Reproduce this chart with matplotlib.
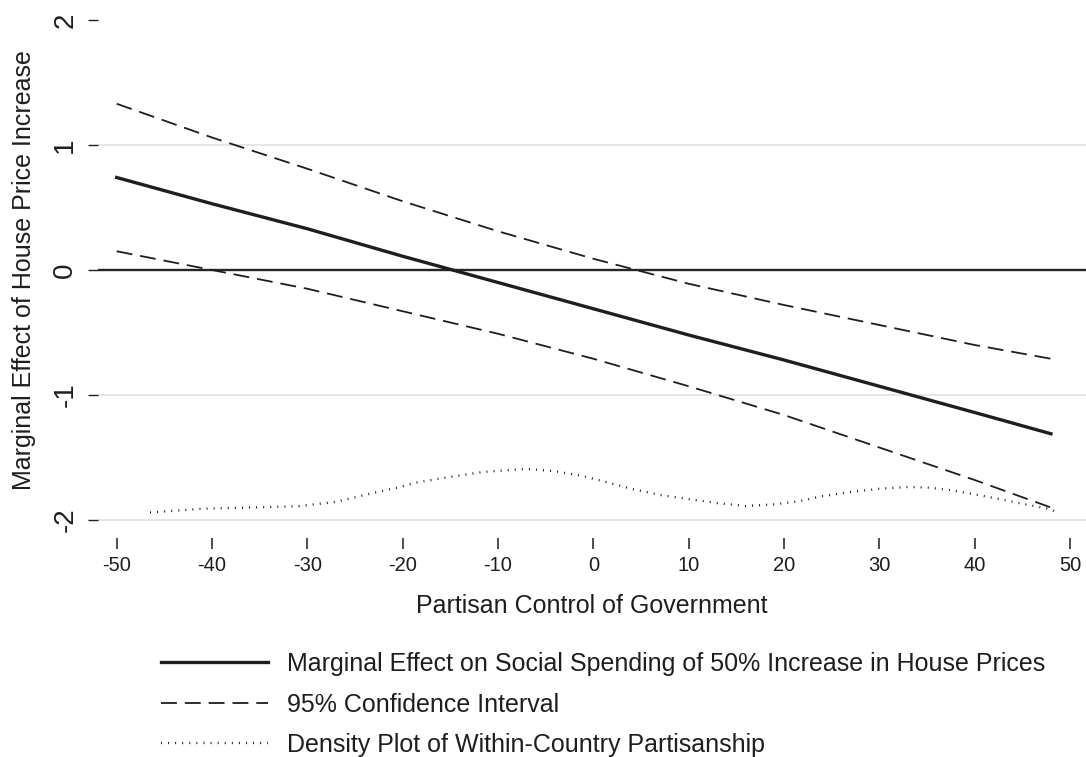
import matplotlib.pyplot as plt

plt.rcParams['font.family'] = ['Liberation Sans', 'DejaVu Sans']
plt.rcParams['axes.unicode_minus'] = False

# marginal effect of a 50% house price increase, evaluated along partisanship
partisan = [-50, -40, -30, -20, -10, 0, 10, 20, 30, 40, 48]
effect = [0.74, 0.53, 0.33, 0.11, -0.10, -0.31, -0.52, -0.72, -0.93, -1.14, -1.31]
ci_upper = [1.33, 1.06, 0.81, 0.55, 0.31, 0.09, -0.11, -0.28, -0.44, -0.60, -0.71]
ci_lower = [0.15, 0.00, -0.15, -0.33, -0.51, -0.71, -0.93, -1.16, -1.42, -1.68, -1.90]

# kernel density of within-country partisanship (rescaled onto the y axis)
density_x = [-46.5, -41, -36, -31, -27, -24, -20.5, -18.5, -15, -11.5, -7, -4, -1,
             2, 4.2, 7, 9.4, 13, 16, 19, 21.7, 24, 27, 30, 33, 35, 37.4, 40,
             42.7, 45, 48, 48.6]
density_y = [-1.94, -1.91, -1.90, -1.89, -1.855, -1.80, -1.74, -1.70, -1.655,
             -1.615, -1.591, -1.61, -1.65, -1.71, -1.754, -1.80, -1.826, -1.865,
             -1.888, -1.875, -1.848, -1.81, -1.776, -1.75, -1.736, -1.74, -1.76,
             -1.795, -1.834, -1.87, -1.914, -1.94]

x_ticks = [-50, -40, -30, -20, -10, 0, 10, 20, 30, 40, 50]
y_ticks = [-2, -1, 0, 1, 2]

labels = ['Marginal Effect on Social Spending of 50% Increase in House Prices',
          '95% Confidence Interval',
          'Density Plot of Within-Country Partisanship']

W, H = 1086, 757
ink = '#1e1e1e'
dash = (0, (8.8, 4.4))
dots = (0, (0.4, 2.6))

fig = plt.figure(figsize=(W / 100, H / 100), dpi=100)
ax = fig.add_axes([98 / W, (H - 525) / H, 988 / W, 510 / H])
ax.set_xlim(-51.96, 51.68)
ax.set_ylim(-2.04, 2.04)

for s in ax.spines.values():
    s.set_visible(False)
ax.spines['bottom'].set_position(('outward', 9.4))

ax.set_yticks(y_ticks)
ax.set_xticks(x_ticks)
ax.set_yticklabels([str(v) for v in y_ticks])
ax.set_xticklabels([str(v) for v in x_ticks])
ax.tick_params(axis='y', length=7.2, width=1.0, color=ink, pad=7,
               labelsize=20, labelcolor=ink, labelrotation=90)
for lab in ax.get_yticklabels():
    lab.set_va('center')
ax.tick_params(axis='x', length=8, width=1.1, color=ink, pad=5,
               labelsize=14.5, labelcolor=ink)

# light horizontal grid, none at the top tick
ax.grid(axis='y', color='#e6e6e6', linewidth=1.4)
ax.grid(axis='x', visible=False)
for val, gl in zip(y_ticks, ax.get_ygridlines()):
    if val in (0, 2):
        gl.set_visible(False)
ax.set_axisbelow(True)

ax.axhline(0, color='#262626', linewidth=1.7, zorder=2)

ax.plot(partisan, effect, color=ink, linewidth=2.4, label=labels[0], zorder=4)
ax.plot(partisan, ci_upper, color=ink, linewidth=1.3,
        linestyle=dash, label=labels[1], zorder=3)
ax.plot(partisan, ci_lower, color=ink, linewidth=1.3, linestyle=dash, zorder=3)
ax.plot(density_x, density_y, color='#111111', linewidth=1.7,
        linestyle=dots, label=labels[2], zorder=3)

ax.set_xlabel('Partisan Control of Government', fontsize=18, color=ink)
ax.xaxis.label.set_va('baseline')
ax.xaxis.set_label_coords(0.5, (525 - 613) / 510)
ax.set_ylabel('Marginal Effect of House Price Increase', fontsize=18, color=ink)
ax.yaxis.label.set_va('baseline')
ax.yaxis.set_label_coords((31 - 98) / 988, 0.5)

ax.legend(loc='upper left', bbox_to_anchor=(161 / W, (H - 652) / H),
          bbox_transform=fig.transFigure, frameon=False, fontsize=18,
          handlelength=4.28, handletextpad=0.76, labelspacing=0.66,
          borderpad=0, borderaxespad=0, labelcolor=ink)

fig.savefig('out.png', dpi=100)
